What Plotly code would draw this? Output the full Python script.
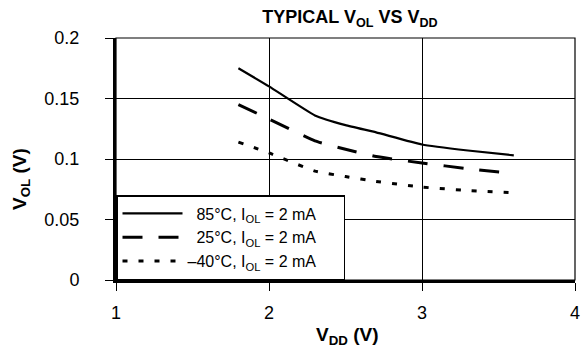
import plotly.graph_objects as go

# Supply voltage (V) and typical output-low voltage (V) for each temperature
vdd = [1.8, 2.0, 2.3, 2.5, 2.7, 3.0, 3.3, 3.6]
vol_85c = [0.175, 0.160, 0.136, 0.128, 0.122, 0.112, 0.107, 0.103]
vol_25c = [0.145, 0.133, 0.115, 0.108, 0.102, 0.0967, 0.092, 0.088]
vol_m40c = [0.114, 0.105, 0.090, 0.0855, 0.0815, 0.0768, 0.074, 0.0722]

PAD = "\u00a0" * 5
series_names = [
    "\u200785°C, I<sub>OL</sub> = 2 mA" + PAD,
    "\u200725°C, I<sub>OL</sub> = 2 mA" + PAD,
    "–40°C, I<sub>OL</sub> = 2 mA" + PAD,
]

x_ticks = [1, 2, 3, 4]
y_ticks = [0, 0.05, 0.1, 0.15, 0.2]
y_tick_text = ["0", "0.05", "0.1", "0.15", "0.2"]

FONT = "Liberation Sans, Arial, sans-serif"

fig = go.Figure()
fig.add_trace(go.Scatter(x=vdd, y=vol_85c, mode="lines", name=series_names[0],
                         line=dict(color="black", width=2.2, shape="spline", smoothing=0.4)))
fig.add_trace(go.Scatter(x=vdd, y=vol_25c, mode="lines", name=series_names[1],
                         line=dict(color="black", width=3, dash="20px,16px", shape="spline", smoothing=0.4)))
fig.add_trace(go.Scatter(x=vdd, y=vol_m40c, mode="lines", name=series_names[2],
                         line=dict(color="black", width=3, dash="5px,11px", shape="spline", smoothing=0.4)))

fig.update_layout(
    width=582, height=354,
    margin=dict(l=116, r=2, t=38, b=74),
    paper_bgcolor="white", plot_bgcolor="white",
    font=dict(family=FONT, color="black"),
    title=dict(text="<b>TYPICAL V<sub>OL</sub> VS V<sub>DD</sub></b>",
               font=dict(family=FONT, size=18, color="black"),
               x=(350 / 582), xanchor="center", y=1 - 17 / 354, yanchor="middle",
               yref="container"),
    legend=dict(x=0, y=0, xanchor="left", yanchor="bottom",
                bgcolor="white", bordercolor="black", borderwidth=1.5,
                font=dict(family=FONT, size=16, color="black"),
                itemwidth=60, tracegroupgap=0),
    showlegend=True,
)

fig.update_xaxes(range=[1, 4], tickvals=x_ticks, ticks="outside", ticklen=8,
                 tickwidth=1, tickcolor="black", showline=True, linewidth=3,
                 linecolor="black", showgrid=True, gridcolor="black", gridwidth=1,
                 zeroline=False, ticklabelstandoff=6, ticklabeloverflow="allow",
                 tickfont=dict(family=FONT, size=18, color="black"))
fig.update_yaxes(range=[0, 0.2], tickvals=y_ticks, ticktext=y_tick_text,
                 ticks="outside", ticklen=8, tickwidth=1, tickcolor="black",
                 showline=True, linewidth=3, linecolor="black", showgrid=True,
                 gridcolor="black", gridwidth=1, zeroline=False,
                 ticklabelstandoff=22, ticklabeloverflow="allow",
                 tickfont=dict(family=FONT, size=18, color="black"))

# Thin frame around the plotting area (top and right edges)
fig.add_shape(type="rect", xref="paper", yref="paper", x0=0, x1=1, y0=0, y1=1,
              line=dict(color="black", width=1.2), layer="above")

# Axis titles
fig.add_annotation(text="<b>V<sub>DD</sub> (V)</b>", xref="paper", yref="paper",
                   x=(350 - 116) / 464, y=-(336 - 280) / 242, xanchor="center",
                   yanchor="middle", showarrow=False,
                   font=dict(family=FONT, size=19, color="black"))
fig.add_annotation(text="<b>V<sub>OL</sub> (V)</b>", xref="paper", yref="paper",
                   x=(20 - 116) / 464, y=(280 - 179) / 242, xanchor="center",
                   yanchor="middle", textangle=-90, showarrow=False,
                   font=dict(family=FONT, size=19, color="black"))

fig.write_html("out.html")
